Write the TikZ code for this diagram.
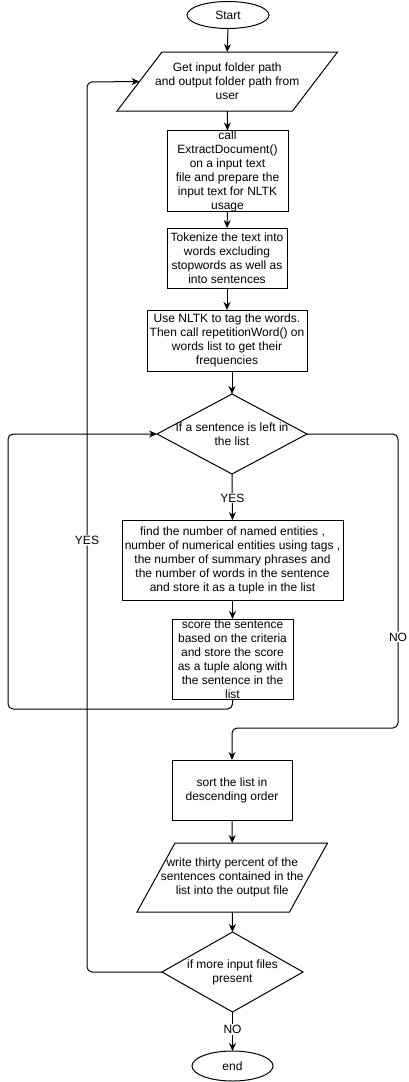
\documentclass[tikz,border=0pt]{standalone}
\usepackage{fontspec}
\setmainfont{Liberation Sans}
\usetikzlibrary{shapes.geometric,arrows.meta,calc}
\begin{document}
\begin{tikzpicture}[x=1pt,y=-1pt,
  every node/.style={font=\fontsize{12}{14}\selectfont, inner sep=0pt, outer sep=0pt},
  proc/.style={draw, line width=1pt, rectangle, align=center},
  term/.style={draw, line width=1pt, ellipse, align=center},
  iotext/.style={rectangle, align=center},
  dec/.style={draw, line width=1pt, diamond},
  shapeline/.style={line width=1pt, line join=miter},
  arr/.style={draw, line width=1pt, -{Stealth[length=8pt,width=7pt]}},
  lbl/.style={fill=white, inner sep=1pt}
]
\fill[white] (0,0) rectangle (406,1082);

% nodes
\node[term, minimum width=82pt, minimum height=27pt] (start) at (228,15) {Start};

\node[iotext, minimum width=175.5pt, minimum height=59pt] (p1) at (227.25,81.5)
  {Get input folder path\\and output folder path from\\user};
\draw[shapeline] ($(p1.north west)+(22.5,0)$) -- ($(p1.north east)+(22.5,0)$)
  -- ($(p1.south east)+(-22.5,0)$) -- ($(p1.south west)+(-22.5,0)$) -- cycle;

\node[proc, minimum width=121pt, minimum height=80pt] (b2) at (227.5,171)
  {call\\ExtractDocument()\\on a input text\\file and prepare the\\input text for NLTK\\usage};

\node[proc, minimum width=120pt, minimum height=60pt] (b3) at (227,258)
  {Tokenize the text into\\words excluding\\stopwords as well as\\into sentences};

\node[proc, minimum width=160pt, minimum height=61pt] (b4) at (227,340.5)
  {Use NLTK to tag the words.\\Then call repetitionWord() on\\words list to get their\\frequencies};

\node[dec, minimum width=150pt, minimum height=80pt,
  label={[align=center]center:{If a sentence is left in\\the list}}] (d1) at (232,434) {};

\node[proc, minimum width=221pt, minimum height=80pt] (b5) at (232.5,560)
  {find the number of named entities ,\\number of numerical entities using tags ,\\the number of summary phrases and\\the number of words in the sentence\\and store it as a tuple in the list};

\node[proc, minimum width=121pt, minimum height=80pt] (b6) at (232.5,659)
  {score the sentence\\based on the criteria\\and store the score\\as a tuple along with\\the sentence in the\\list};

\node[proc, minimum width=120pt, minimum height=60pt] (sort) at (232,790)
  {sort the list in\\descending order};

\node[iotext, minimum width=152.5pt, minimum height=69pt] (p2) at (232.25,877.5)
  {write thirty percent of the\\sentences contained in the\\list into the output file};
\draw[shapeline] ($(p2.north west)+(19,0)$) -- ($(p2.north east)+(19,0)$)
  -- ($(p2.south east)+(-19,0)$) -- ($(p2.south west)+(-19,0)$) -- cycle;

\node[dec, minimum width=141pt, minimum height=80pt,
  label={[align=center]center:{if more input files\\present}}] (d2) at (232.5,972) {};

\node[term, minimum width=81pt, minimum height=30pt] (end) at (232.5,1066) {end};

% helper coordinates
\coordinate (lp) at (8,709);
\coordinate (rp) at (398,728);
\coordinate (ly) at (87,82);

% connectors
\draw[arr] (start.south) -- (p1.north);
\draw[arr] (p1.south) -- (b2.north);
\draw[arr] (b2.south) -- (b3.north);
\draw[arr] (b3.south) -- (b4.north);
\draw[arr] (b4.south -| d1.north) -- (d1.north);
\draw[arr] (d1.south) -- node[lbl, pos=0.52] {YES} (b5.north);
\draw[arr] (b5.south) -- (b6.north);
\draw[arr, rounded corners=5pt] (b6.south) -- (b6.south |- lp) -- (lp) -- (lp |- d1.west) -- (d1.west);
\draw[arr, rounded corners=5pt] (d1.east) -- (d1.east -| rp) -- node[lbl, pos=0.69] {NO} (rp) -- (rp -| sort.north) -- (sort.north);
\draw[arr] (sort.south) -- (p2.north);
\draw[arr] (p2.south) -- (d2.north);
\draw[arr, rounded corners=5pt] (d2.west) -- (d2.west -| ly) -- node[lbl, pos=0.485] {YES} (ly) -- (p1.west);
\draw[arr] (d2.south) -- node[lbl, pos=0.45] {NO} (end.north);
\end{tikzpicture}
\end{document}
